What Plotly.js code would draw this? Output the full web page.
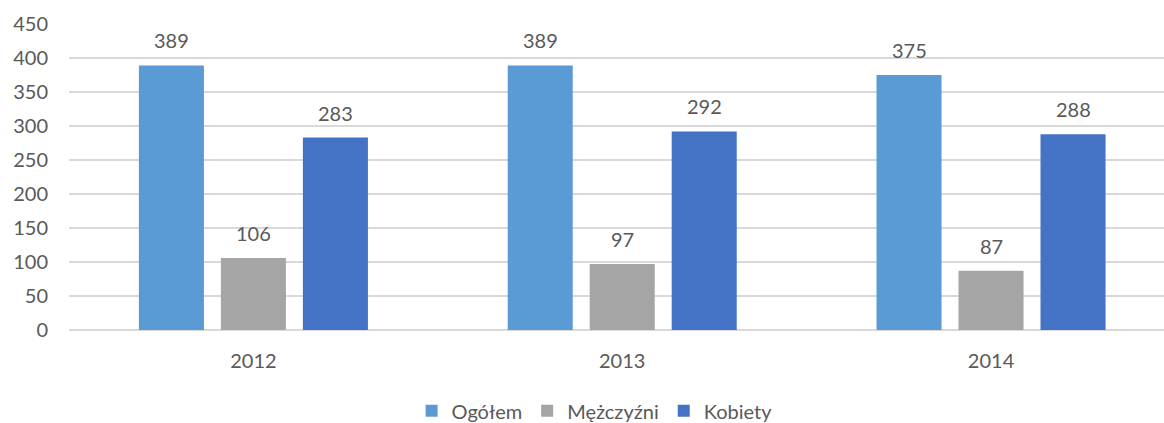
<!DOCTYPE html>
<html>
<head>
<meta charset="utf-8">
<script src="https://cdn.plot.ly/plotly-3.0.1.min.js"></script>
<style>html,body{margin:0;padding:0;background:#fff;}#chart{width:1164px;height:423px;}</style>
</head>
<body>
<div id="chart"></div>
<script>
const categories = ["2012", "2013", "2014"];
const seriesNames = ["Ogółem", "Mężczyźni", "Kobiety"];
const ogolem = [389, 389, 375];
const mezczyzni = [106, 97, 87];
const kobiety = [283, 292, 288];
const yTicks = [0, 50, 100, 150, 200, 250, 300, 350, 400, 450];

const seriesValues = [ogolem, mezczyzni, kobiety];
const colors = ["#5B9BD5", "#A5A5A5", "#4472C4"];
const fontFam = "Lato, sans-serif";
const textColor = "#595959";

const traces = seriesValues.map((vals, i) => ({
  type: "bar",
  name: seriesNames[i],
  x: categories,
  y: vals,
  marker: {color: colors[i]},
  hoverinfo: "skip"
}));

const plotW = 1164 - 69;
const xRange = [-0.5, 2.469];
const pxPerCat = plotW / (xRange[1] - xRange[0]);
const bargap = 0.333;
const slot = pxPerCat * (1 - bargap) / 3;

const anns = [];
seriesValues.forEach((vals, i) => {
  vals.forEach((v, j) => {
    anns.push({
      x: j, y: v, xref: "x", yref: "y",
      text: String(v), showarrow: false,
      xanchor: "center", yanchor: "middle",
      xshift: (i - 1) * slot, yshift: 25,
      font: {family: fontFam, size: 20, color: textColor}
    });
  });
});

const layout = {
  width: 1164, height: 423,
  margin: {l: 69, r: 0, t: 24, b: 93, autoexpand: false},
  paper_bgcolor: "#fff", plot_bgcolor: "#fff",
  barmode: "group",
  bargap: bargap,
  bargroupgap: 0.207,
  showlegend: true,
  legend: {
    orientation: "h", x: 0.48, xanchor: "center", y: -0.2, yanchor: "top",
    font: {family: fontFam, size: 20, color: textColor},
    traceorder: "normal"
  },
  xaxis: {
    type: "category", range: xRange,
    showgrid: false, zeroline: false, showline: false,
    ticks: "", ticklabelstandoff: 17,
    tickfont: {family: fontFam, size: 20, color: textColor}
  },
  yaxis: {
    range: [0, 450], tickvals: yTicks, ticktext: yTicks.map(String),
    showgrid: true, gridcolor: "#D9D9D9", gridwidth: 1.5,
    zeroline: true, zerolinecolor: "#D9D9D9", zerolinewidth: 1.5,
    showline: false, ticks: "", ticklabelstandoff: 20,
    tickfont: {family: fontFam, size: 20, color: textColor}
  },
  annotations: anns
};

Plotly.newPlot("chart", traces, layout, {displayModeBar: false, staticPlot: true});
</script>
</body>
</html>
